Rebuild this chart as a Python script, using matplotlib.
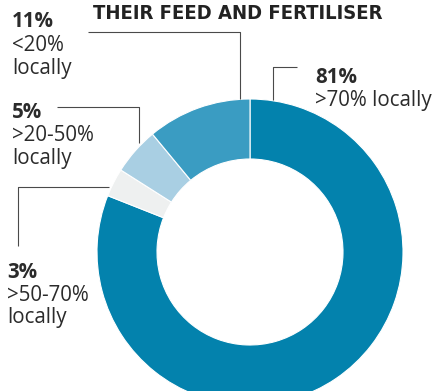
import matplotlib
matplotlib.use("Agg")
import matplotlib.pyplot as plt

# Share of farms by how much of their feed and fertiliser is sourced locally
shares = [81, 3, 5, 11]
categories = [">70% locally", ">50-70% locally", ">20-50% locally", "<20% locally"]
colors = ["#0382ad", "#eef0f0", "#a9cfe3", "#3a9cc2"]

W, H = 436, 391
fig = plt.figure(figsize=(W / 100, H / 100), dpi=100)
ax = fig.add_axes([0, 0, 1, 1])

def Y(y):
    # top-down pixel coordinate to axis coordinate
    return H - y

cx, cy, r_out, ring = 250, 252, 153, 60
ax.pie(shares, colors=colors, startangle=90, counterclock=False,
       center=(cx, Y(cy)), radius=r_out,
       wedgeprops=dict(width=ring, edgecolor="white", linewidth=0.8))
ax.set_xlim(0, W)
ax.set_ylim(0, H)
ax.set_aspect("equal")
ax.axis("off")

font = "Open Sans"
tc = "#2b2b2b"
fs = 14.8

ax.text(238, Y(19), "THEIR FEED AND FERTILISER", ha="center", va="baseline",
        fontsize=14.5, fontweight="bold", family="DejaVu Sans",
        fontstretch="condensed", color="#222222")

def label(x, ys, pct, lines):
    ax.text(x, Y(ys[0]), f"{pct}%", ha="left", va="baseline", fontsize=fs,
            fontweight="bold", family=font, color=tc)
    for yy, t in zip(ys[1:], lines):
        ax.text(x, Y(yy), t, ha="left", va="baseline", fontsize=fs,
                family=font, color=tc)

label(315, [83, 106], shares[0], [">70% locally"])
label(7, [278, 301, 323], shares[1], [">50-70%", "locally"])
label(12, [118, 141, 164], shares[2], [">20-50%", "locally"])
label(12, [27, 51, 74], shares[3], ["<20%", "locally"])

lc = "#4a4a4a"
lw = 0.8
def leader(xs, ys):
    ax.plot(xs, [Y(v) for v in ys], color=lc, lw=lw, solid_capstyle="butt")

leader([297, 273, 273], [67, 67, 100])
leader([88, 240, 240], [32, 32, 99])
leader([57, 139, 139], [107, 107, 143])
leader([18, 18, 109], [246, 187, 187])

fig.savefig("out.png", dpi=100)
